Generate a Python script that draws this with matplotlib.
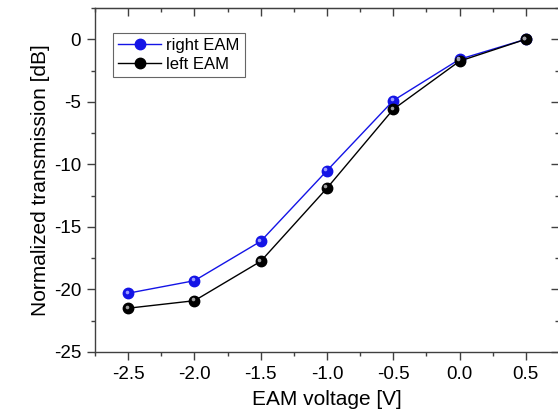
import matplotlib as mpl

mpl.use("Agg")

import matplotlib.pyplot as plt
from matplotlib.ticker import FormatStrFormatter, MultipleLocator
from matplotlib.transforms import offset_copy

plt.rcParams["font.family"] = ["Liberation Sans", "DejaVu Sans"]
plt.rcParams["axes.unicode_minus"] = False

# Data
voltage = [-2.5, -2.0, -1.5, -1.0, -0.5, 0.0, 0.5]
right_eam = [-20.3, -19.3, -16.15, -10.5, -4.9, -1.6, 0.0]
left_eam = [-21.5, -20.9, -17.75, -11.9, -5.6, -1.75, 0.0]

SPINE = "#404040"


def set_ticks(axis, step_major, step_minor):
    axis.set_major_locator(MultipleLocator(step_major))
    axis.set_minor_locator(MultipleLocator(step_minor))


def style_ticks(a, direction, **kw):
    a.tick_params(which="both", direction=direction, color=SPINE, width=1.0, **kw)
    a.tick_params(which="major", length=6)
    a.tick_params(which="minor", length=3)


fig = plt.figure(figsize=(5.58, 4.17), dpi=100)
ax = fig.add_axes([0.1703, 0.1559, 0.8315, 0.825])

series = [(right_eam, "#1414e6", "#9a9aff", "right EAM"),
          (left_eam, "#000000", "#a0a0a0", "left EAM")]
hl = offset_copy(ax.transData, fig=fig, x=-1.2, y=1.2, units="points")
handles = []
for vals, col, hi, lab in series:
    (line,) = ax.plot(voltage, vals, color=col, lw=1.0, marker="o", ms=7.5,
                      mfc=col, mec=col, label=lab, zorder=3)
    handles.append(line)
    # small highlight to mimic the shaded spheres
    ax.plot(voltage, vals, ls="none", marker="o", ms=2.6, mfc=hi, mec="none",
            zorder=4, transform=hl)

ax.set_xlim(-2.75, 0.75)
ax.set_ylim(-25, 2.5)
set_ticks(ax.xaxis, 0.5, 0.25)
set_ticks(ax.yaxis, 5, 2.5)
ax.xaxis.set_major_formatter(FormatStrFormatter("%.1f"))

for s in ax.spines.values():
    s.set_color(SPINE)
    s.set_linewidth(1.0)
style_ticks(ax, "out", labelsize=13.5, top=False, right=False, pad=4)

# mirrored inward ticks on top and right
top = ax.secondary_xaxis("top")
set_ticks(top.xaxis, 0.5, 0.25)
style_ticks(top, "in", labeltop=False)
right = ax.secondary_yaxis("right")
set_ticks(right.yaxis, 5, 2.5)
style_ticks(right, "in", labelright=False)
for sec in (top, right):
    for s in sec.spines.values():
        s.set_color(SPINE)

ax.set_xlabel("EAM voltage [V]", fontsize=15, labelpad=5)
ax.set_ylabel("Normalized transmission [dB]", fontsize=15, labelpad=3)

leg = ax.legend(handles=handles, loc="upper left", bbox_to_anchor=(0.039, 0.927),
                borderaxespad=0, fontsize=12, frameon=True, fancybox=False,
                edgecolor=SPINE, handlelength=2.6, handletextpad=0.3,
                borderpad=0.3, labelspacing=0.25)
leg.get_frame().set_linewidth(0.8)

fig.savefig("out.png", dpi=100)
